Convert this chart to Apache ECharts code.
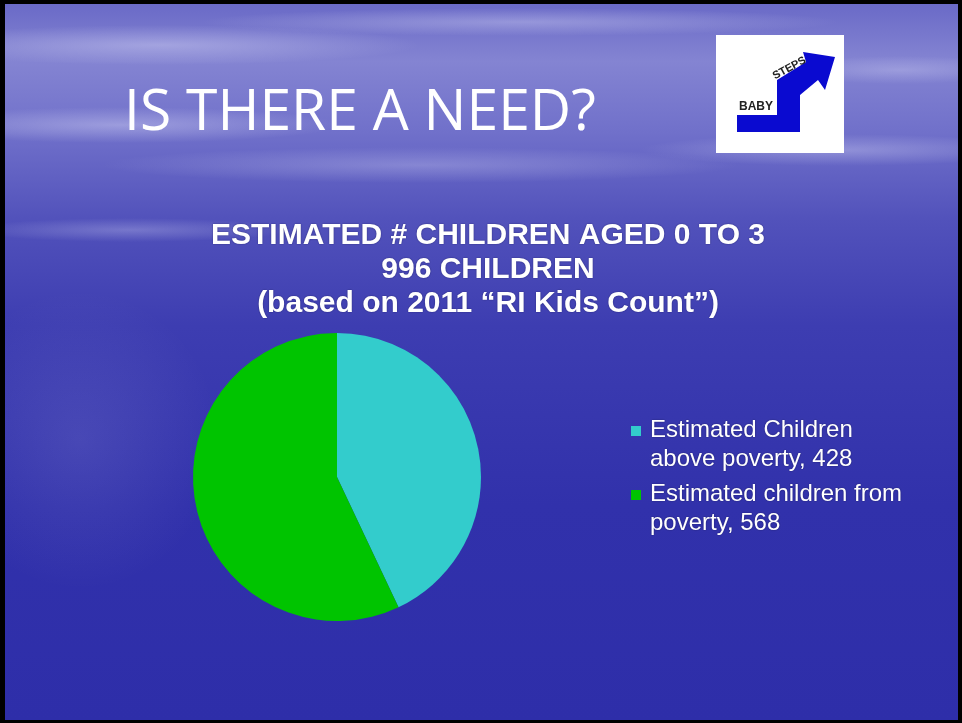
<!DOCTYPE html>
<html>
<head>
<meta charset="utf-8">
<script src="https://cdn.jsdelivr.net/npm/echarts@6/dist/echarts.min.js"></script>
<style>
html,body{margin:0;padding:0;background:#000;}
#c{width:962px;height:723px;}
</style>
</head>
<body>
<div id="c"></div>
<script>
var slideTitle = 'IS THERE A NEED?';
var chartTitleLines = ['ESTIMATED # CHILDREN AGED 0 TO 3', '996 CHILDREN', '(based on 2011 \u201cRI Kids Count\u201d)'];
var categories = ['Estimated Children above poverty', 'Estimated children from poverty'];
var values = [428, 568];
var colors = ['#33CCCC', '#00C400'];

var chart = echarts.init(document.getElementById('c'), null, {renderer: 'canvas'});

var bgGradient = new echarts.graphic.LinearGradient(0, 0, 0, 1, [
  {offset: 0, color: '#6a6ac7'},
  {offset: 0.08, color: '#8484d2'},
  {offset: 0.18, color: '#7070ca'},
  {offset: 0.3, color: '#5252bb'},
  {offset: 0.45, color: '#3d3db1'},
  {offset: 0.7, color: '#3131ab'},
  {offset: 1, color: '#2e2ea9'}
]);

var cloud = function (cx, cy, rx, ry, op) {
  return {type: 'circle', shape: {cx: 0, cy: 0, r: rx}, x: cx, y: cy, scaleY: ry / rx, silent: true,
    style: {fill: new echarts.graphic.RadialGradient(0.5, 0.5, 0.5, [
      {offset: 0, color: 'rgba(235,235,255,' + op + ')'},
      {offset: 1, color: 'rgba(235,235,255,0)'}])}};
};

var frame = function (x, y, w, h) {
  return {type: 'rect', z: 200, silent: true, shape: {x: x, y: y, width: w, height: h}, style: {fill: '#000'}};
};

var option = {
  backgroundColor: '#000',
  animation: false,
  color: colors,
  title: [{
    text: slideTitle,
    left: 119, top: 80,
    textStyle: {color: '#ffffff', fontFamily: 'Open Sans', fontWeight: 'normal', fontSize: 57}
  }, {
    text: chartTitleLines.join('\n'),
    left: 483, top: 214, textAlign: 'center',
    textStyle: {color: '#ffffff', fontFamily: 'Liberation Sans', fontWeight: 'bold', fontSize: 30, lineHeight: 34,
      textShadowColor: 'rgba(20,20,80,0.6)', textShadowBlur: 2}
  }],
  legend: {
    orient: 'vertical',
    left: 631, top: 416,
    itemWidth: 14, itemHeight: 38,
    itemGap: 6,
    icon: 'path://M0,0L10,0L10,10L0,10Z M13.99,37.99L14,37.99L14,38L13.99,38Z',
    formatter: function (name) {
      var i = categories.indexOf(name);
      return name + ', ' + values[i];
    },
    textStyle: {color: '#ffffff', fontFamily: 'Liberation Sans', fontSize: 24, lineHeight: 29,
      width: 262, overflow: 'break', textShadowColor: 'rgba(20,20,80,0.7)', textShadowBlur: 2},
    padding: 0
  },
  graphic: [
    {type: 'rect', z: -10, silent: true, shape: {x: 5, y: 4, width: 953, height: 716}, style: {fill: bgGradient}},
    cloud(160, 45, 260, 20, 0.35),
    cloud(520, 22, 320, 14, 0.3),
    cloud(120, 125, 220, 18, 0.35),
    cloud(840, 150, 200, 16, 0.3),
    cloud(420, 165, 320, 18, 0.25),
    cloud(130, 230, 160, 12, 0.25),
    cloud(900, 70, 120, 14, 0.25),
    cloud(80, 440, 140, 150, 0.1),
    frame(0, 0, 962, 4),
    frame(0, 0, 5, 723),
    frame(958, 0, 4, 723),
    frame(0, 720, 962, 3),
    {type: 'rect', silent: true, shape: {x: 716, y: 35, width: 128, height: 118}, style: {fill: '#ffffff'}},
    {type: 'polygon', silent: true, shape: {points: [[737,115],[777,115],[777,80],[806,62],[803,52],[835,57],[825,90],[818,80],[800,95],[800,132],[737,132]]},
      style: {fill: '#0a0ad0'}},
    {type: 'text', silent: true, x: 739, y: 101, style: {text: 'BABY', fill: '#222', font: 'bold 12px "Liberation Sans"'}},
    {type: 'text', silent: true, x: 771, y: 72, rotation: 0.5, style: {text: 'STEPS', fill: '#222', font: 'bold 11px "Liberation Sans"'}}
  ],
  series: [{
    type: 'pie',
    center: [337, 477],
    radius: 144,
    startAngle: 90,
    clockwise: true,
    label: {show: false},
    labelLine: {show: false},
    emphasis: {disabled: true},
    itemStyle: {borderWidth: 0},
    data: categories.map(function (c, i) { return {name: c, value: values[i]}; })
  }]
};
chart.setOption(option);
</script>
</body>
</html>
